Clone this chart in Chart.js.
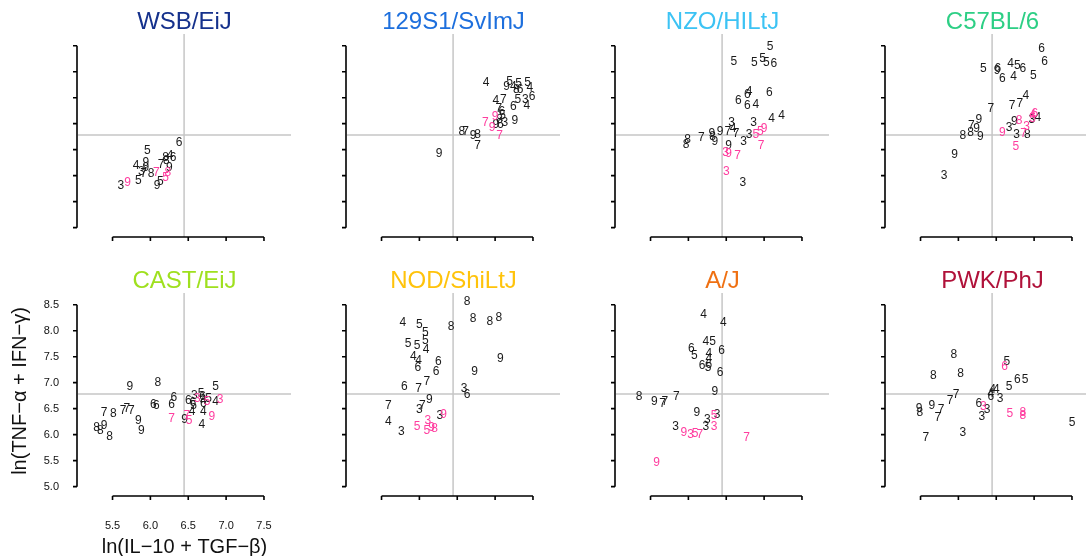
<!DOCTYPE html>
<html>
<head>
<meta charset="utf-8">
<script src="https://cdn.jsdelivr.net/npm/chart.js@4.4.1/dist/chart.umd.min.js"></script>
<style>
body{margin:0;background:#fff;}
#wrap{position:relative;width:1086px;height:556px;overflow:hidden;background:#fff;}
#wrap canvas{position:absolute;}
</style>
</head>
<body>
<div id="wrap"></div>
<script>
// strain panels, left to right, top to bottom
const strains = ["WSB/EiJ","129S1/SvImJ","NZO/HILtJ","C57BL/6","CAST/EiJ","NOD/ShiLtJ","A/J","PWK/PhJ"];
const strainColors = ["#15318c","#1d6fdd","#3cc3f4","#2dcf85","#9fe01f","#ffc30b","#ef7012","#b0123a"];

const xTicks = [5.5, 6.0, 6.5, 7.0, 7.5];
const yTicks = [5.0, 5.5, 6.0, 6.5, 7.0, 7.5, 8.0, 8.5];
const refX = 6.445;
const refY = 6.783;

// each point: x, y, the digit printed, and whether it is pink
const wsbX = [6.38,5.96,6.20,6.26,6.30,6.14,6.21,6.25,5.81,5.94,5.94,5.88,5.91,6.01,5.84,6.08,6.20,6.23,6.09,6.13,5.61,5.70];
const wsbY = [6.63,6.48,6.35,6.38,6.34,6.22,6.28,6.15,6.19,6.24,6.16,6.08,6.03,6.04,5.90,6.06,5.97,6.06,5.81,5.88,5.81,5.87];
const wsbDigit = [6,5,8,4,6,7,8,9,4,9,9,3,7,8,5,7,5,8,9,5,3,9];
const wsbPink = [0,0,0,0,0,0,0,0,0,0,0,0,0,0,0,1,1,1,0,0,0,1];

const svX = [6.88,7.19,7.15,7.24,7.31,7.28,7.33,7.43,7.46,7.49,7.40,7.30,7.42,7.24,7.01,7.11,7.05,7.09,7.00,7.06,7.10,7.01,7.07,7.13,7.26,6.87,6.96,7.06,6.56,6.61,6.71,6.77,6.77,6.26];
const svY = [7.79,7.80,7.72,7.72,7.76,7.65,7.66,7.78,7.69,7.51,7.47,7.46,7.35,7.33,7.44,7.47,7.29,7.23,7.14,7.08,7.15,6.99,6.99,7.02,7.06,7.01,6.92,6.77,6.84,6.85,6.76,6.79,6.58,6.42];
const svDigit = [4,5,9,4,5,8,6,5,4,6,3,5,4,6,4,7,7,6,9,8,5,9,6,3,9,7,9,7,8,7,9,8,7,9];
const svPink = [0,0,0,0,0,0,0,0,0,0,0,0,0,0,0,0,0,0,1,0,0,0,0,0,0,1,1,1,0,0,0,0,0,0];

const nzoX = [7.08,6.60,6.87,6.98,7.03,7.13,6.80,6.78,7.07,6.66,6.78,6.89,6.57,6.86,7.10,7.23,6.42,6.52,6.59,6.63,6.80,6.73,6.89,6.95,7.00,6.96,5.99,5.97,6.17,6.31,6.32,6.35,6.53,6.49,6.53,6.65,6.50,6.72];
const nzoY = [8.48,8.19,8.17,8.25,8.17,8.15,7.62,7.55,7.60,7.44,7.35,7.37,7.02,7.02,7.10,7.15,6.84,6.84,6.90,6.81,6.78,6.66,6.78,6.85,6.90,6.58,6.70,6.60,6.74,6.81,6.75,6.65,6.57,6.44,6.42,6.39,6.07,5.87];
const nzoDigit = [5,5,5,5,5,6,4,6,6,6,6,4,3,3,4,4,9,7,4,7,3,3,5,5,9,7,8,8,7,9,8,9,9,3,9,7,3,3];
const nzoPink = [0,0,0,0,0,0,0,0,0,0,0,0,0,0,0,0,0,0,0,0,0,0,1,1,1,1,0,0,0,0,0,0,0,1,1,1,1,0];

const b6X = [7.10,7.14,6.33,6.52,6.51,6.58,6.69,6.78,6.85,6.73,6.99,6.89,6.71,6.81,6.43,6.27,6.17,6.24,6.16,6.06,6.29,6.67,6.74,6.80,6.90,6.86,6.77,6.91,6.98,7.01,7.05,6.97,6.98,6.58,6.76,5.95,5.81];
const b6Y = [8.44,8.19,8.05,8.06,8.01,7.87,8.15,8.12,8.05,7.90,7.93,7.53,7.34,7.38,7.28,7.07,6.96,6.91,6.83,6.76,6.75,6.93,7.03,7.06,6.94,6.81,6.78,6.79,7.17,7.19,7.11,7.07,7.10,6.83,6.56,6.40,5.99];
const b6Digit = [6,6,5,6,9,6,4,5,6,4,5,4,7,7,7,9,7,9,8,8,9,3,9,8,3,7,3,8,4,6,4,3,5,9,5,9,3];
const b6Pink = [0,0,0,0,0,0,0,0,0,0,0,0,0,0,0,0,0,0,0,0,0,0,0,1,1,1,0,0,1,1,0,0,1,1,1,0,0];

const castX = [5.73,6.10,6.86,6.31,6.04,6.08,6.28,6.50,6.58,6.67,6.62,6.56,6.57,6.69,6.70,6.75,6.77,6.70,6.86,6.92,6.55,6.70,6.45,6.48,6.51,6.28,6.81,6.68,5.64,5.69,5.75,5.39,5.51,5.84,5.88,5.29,5.39,5.34,5.46];
const castY = [6.92,7.00,6.92,6.72,6.57,6.56,6.57,6.66,6.75,6.79,6.69,6.61,6.55,6.74,6.66,6.63,6.70,6.60,6.64,6.68,6.45,6.45,6.28,6.36,6.27,6.31,6.34,6.20,6.47,6.50,6.47,6.42,6.40,6.26,6.08,6.13,6.18,6.07,5.97];
const castDigit = [9,8,5,6,6,6,6,6,3,5,3,6,5,6,4,5,5,6,4,3,4,4,9,7,5,7,9,4,7,7,7,7,8,9,9,8,9,8,8];
const castPink = [0,0,0,0,0,0,0,0,0,0,1,0,0,0,0,1,0,0,0,1,0,0,0,1,1,1,1,0,0,0,0,0,0,0,0,0,0,0,0];

const nodX = [6.63,6.71,6.93,7.05,6.42,5.78,6.00,6.08,5.85,5.97,6.08,6.09,5.92,5.99,6.25,5.98,6.22,7.07,6.73,5.80,5.99,6.10,6.59,6.63,6.13,5.59,6.00,6.04,6.27,6.32,5.59,5.76,5.97,6.11,6.10,6.16,6.20];
const nodY = [8.56,8.23,8.17,8.25,8.08,8.16,8.12,7.96,7.75,7.71,7.80,7.64,7.50,7.43,7.41,7.28,7.21,7.47,7.21,6.93,6.89,7.02,6.88,6.77,6.68,6.55,6.48,6.56,6.37,6.39,6.24,6.05,6.15,6.26,6.07,6.13,6.11];
const nodDigit = [8,8,8,8,8,4,5,5,5,5,5,4,4,4,6,6,6,9,9,6,7,7,3,6,9,7,3,7,3,9,4,3,5,3,5,9,8];
const nodPink = [0,0,0,0,0,0,0,0,0,0,0,0,0,0,0,0,0,0,0,0,0,0,0,0,0,0,0,0,0,1,0,0,1,1,1,1,1];

const ajX = [6.20,6.46,6.23,6.32,6.04,6.08,6.27,6.27,6.44,6.18,6.26,6.27,6.42,6.35,5.35,5.55,5.66,5.69,5.84,6.11,6.25,6.38,6.34,6.23,6.34,5.83,5.94,6.03,6.09,6.15,6.77,5.58];
const ajY = [8.31,8.16,7.78,7.78,7.65,7.51,7.56,7.46,7.62,7.32,7.28,7.35,7.20,6.83,6.74,6.64,6.60,6.63,6.74,6.42,6.29,6.39,6.36,6.16,6.16,6.16,6.04,6.00,6.02,6.00,5.94,5.47];
const ajDigit = [4,4,4,5,6,5,4,4,6,6,5,6,6,9,8,9,7,7,7,9,3,3,5,3,3,3,9,3,5,7,7,9];
const ajPink = [0,0,0,0,0,0,0,0,0,0,0,0,0,0,0,0,0,0,0,0,0,0,1,0,1,0,1,1,1,1,1,1];

const pwkX = [5.94,5.67,6.03,6.64,6.61,6.78,6.88,6.67,6.45,6.50,6.43,6.43,6.55,5.97,5.89,6.27,6.33,6.38,6.31,6.68,6.85,6.85,5.48,5.49,5.65,5.77,5.73,5.57,6.06,7.50];
const pwkY = [7.53,7.14,7.18,7.41,7.30,7.05,7.06,6.93,6.87,6.87,6.79,6.73,6.69,6.77,6.66,6.60,6.54,6.48,6.34,6.40,6.43,6.37,6.50,6.43,6.55,6.48,6.32,5.95,6.04,6.23];
const pwkDigit = [8,8,8,5,6,6,5,5,4,4,4,6,3,7,7,6,3,3,3,5,8,8,9,8,9,7,7,7,3,5];
const pwkPink = [0,0,0,0,1,0,0,0,0,0,0,0,0,0,0,0,1,0,0,1,1,1,0,0,0,0,0,0,0,0];

const panels = [
  [wsbX, wsbY, wsbDigit, wsbPink],
  [svX, svY, svDigit, svPink],
  [nzoX, nzoY, nzoDigit, nzoPink],
  [b6X, b6Y, b6Digit, b6Pink],
  [castX, castY, castDigit, castPink],
  [nodX, nodY, nodDigit, nodPink],
  [ajX, ajY, ajDigit, ajPink],
  [pwkX, pwkY, pwkDigit, pwkPink]
];

const FONT = "'Liberation Sans', Arial, Helvetica, sans-serif";
const plotLefts = [78, 347, 616, 886];
const plotTops = [34, 293];
const plotW = 213, plotH = 203;
const pad = {left: 80, right: 12, top: 36, bottom: 62};

const panelPlugin = {
  id: "panel",
  beforeDatasetsDraw(chart) {
    const ctx = chart.ctx, a = chart.chartArea;
    const xs = chart.scales.x, ys = chart.scales.y;
    ctx.save();
    ctx.strokeStyle = "#c6c6c6";
    ctx.lineWidth = 1.5;
    const rx = xs.getPixelForValue(refX), ry = ys.getPixelForValue(refY);
    ctx.beginPath();
    ctx.moveTo(rx, a.top); ctx.lineTo(rx, a.bottom);
    ctx.moveTo(a.left, ry); ctx.lineTo(a.right, ry);
    ctx.stroke();
    ctx.restore();
  },
  afterDatasetsDraw(chart) {
    const ctx = chart.ctx;
    ctx.save();
    ctx.font = "12px " + FONT;
    ctx.textAlign = "center";
    ctx.textBaseline = "middle";
    chart.data.datasets.forEach((ds, di) => {
      ctx.fillStyle = ds.textColor;
      chart.getDatasetMeta(di).data.forEach((pt, j) => {
        ctx.fillText(String(ds.data[j].d), pt.x, pt.y);
      });
    });
    ctx.restore();
  },
  afterDraw(chart, args, opts) {
    const ctx = chart.ctx, a = chart.chartArea;
    const xs = chart.scales.x, ys = chart.scales.y;
    ctx.save();
    // axes
    ctx.strokeStyle = "#000";
    ctx.lineWidth = 1.6;
    const ax = a.left - 1;
    const y0 = ys.getPixelForValue(yTicks[0]), y1 = ys.getPixelForValue(yTicks[yTicks.length - 1]);
    ctx.beginPath();
    ctx.moveTo(ax, y0); ctx.lineTo(ax, y1);
    yTicks.forEach(v => {
      const p = ys.getPixelForValue(v);
      ctx.moveTo(ax, p); ctx.lineTo(ax - 4, p);
    });
    const by = a.bottom;
    const x0 = xs.getPixelForValue(xTicks[0]), x1 = xs.getPixelForValue(xTicks[xTicks.length - 1]);
    ctx.moveTo(x0, by); ctx.lineTo(x1, by);
    xTicks.forEach(v => {
      const p = xs.getPixelForValue(v);
      ctx.moveTo(p, by); ctx.lineTo(p, by + 4);
    });
    ctx.stroke();

    // title
    ctx.fillStyle = opts.color;
    ctx.font = "24px " + FONT;
    ctx.textAlign = "center";
    ctx.textBaseline = "alphabetic";
    ctx.fillText(opts.title, (a.left + a.right) / 2, a.top - 5);

    if (opts.labels) {
      ctx.fillStyle = "#111";
      ctx.font = "11px " + FONT;
      ctx.textAlign = "right";
      ctx.textBaseline = "middle";
      yTicks.forEach(v => ctx.fillText(v.toFixed(1), a.left - 19, ys.getPixelForValue(v)));
      ctx.textAlign = "center";
      xTicks.forEach(v => ctx.fillText(v.toFixed(1), xs.getPixelForValue(v), a.bottom + 30));

      ctx.font = "20px " + FONT;
      ctx.fillText("ln(IL\u221210 + TGF\u2212\u03b2)", (a.left + a.right) / 2, a.bottom + 51);
      ctx.translate(a.left - 58, a.top + 98);
      ctx.rotate(-Math.PI / 2);
      ctx.fillText("ln(TNF\u2212\u03b1 + IFN\u2212\u03b3)", 0, 0);
    }
    ctx.restore();
  }
};

const wrap = document.getElementById("wrap");

function makePanel(i) {
  const [xs, ys, digits, pink] = panels[i];
  const col = i % 4, row = Math.floor(i / 4);
  const canvas = document.createElement("canvas");
  const w = plotW + pad.left + pad.right, h = plotH + pad.top + pad.bottom;
  canvas.width = w; canvas.height = h;
  canvas.style.width = w + "px"; canvas.style.height = h + "px";
  canvas.style.left = (plotLefts[col] - pad.left) + "px";
  canvas.style.top = (plotTops[row] - pad.top) + "px";
  wrap.appendChild(canvas);

  const black = [], hot = [];
  xs.forEach((x, j) => {
    const p = {x: x, y: ys[j], d: digits[j]};
    if (pink[j]) hot.push(p); else black.push(p);
  });

  new Chart(canvas, {
    type: "scatter",
    data: {
      datasets: [
        {data: black, textColor: "#1a1a1a", pointRadius: 0},
        {data: hot, textColor: "#ff3d9f", pointRadius: 0}
      ]
    },
    options: {
      responsive: false,
      animation: false,
      events: [],
      layout: {padding: pad},
      scales: {
        x: {type: "linear", display: false, min: 5.044, max: 7.857},
        y: {type: "linear", display: false, min: 4.82, max: 8.725}
      },
      plugins: {
        legend: {display: false},
        tooltip: {enabled: false},
        panel: {title: strains[i], color: strainColors[i], labels: i === 4}
      }
    },
    plugins: [panelPlugin]
  });
}

for (let i = 0; i < 8; i++) makePanel(i);
</script>
</body>
</html>
